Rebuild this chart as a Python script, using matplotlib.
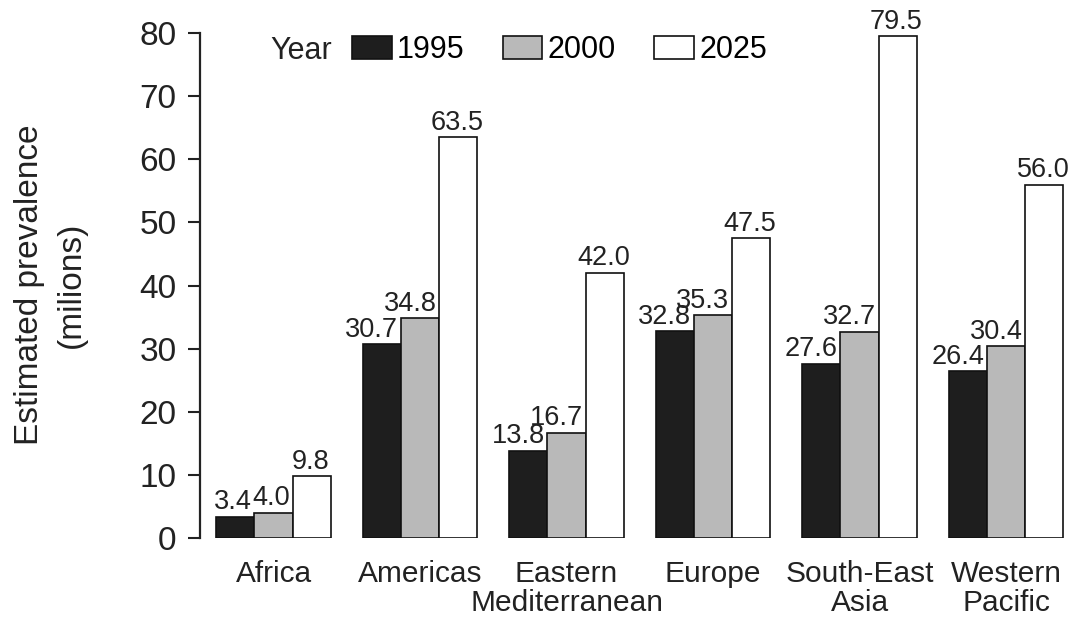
import matplotlib
matplotlib.use("Agg")
import matplotlib.pyplot as plt
from matplotlib.patches import Patch
import numpy as np

plt.rcParams['font.family'] = ['Liberation Sans', 'DejaVu Sans']

regions = ["Africa", "Americas", "Eastern\nMediterranean", "Europe",
           "South-East\nAsia", "Western\nPacific"]
years = ["1995", "2000", "2025"]
prev_1995 = [3.4, 30.7, 13.8, 32.8, 27.6, 26.4]
prev_2000 = [4.0, 34.8, 16.7, 35.3, 32.7, 30.4]
prev_2025 = [9.8, 63.5, 42.0, 47.5, 79.5, 56.0]
y_ticks = [0, 10, 20, 30, 40, 50, 60, 70, 80]

series = [prev_1995, prev_2000, prev_2025]
fills = ["#1e1e1e", "#b9b9b9", "#ffffff"]
ink = "#222222"

W, H = 1073, 619
fig = plt.figure(figsize=(W / 100, H / 100), dpi=100)
ax = fig.add_axes([200 / W, 1 - 538 / H, (1068 - 200) / W, (538 - 33) / H])

x = np.arange(len(regions))
bw = 0.2615
for k, (vals, col) in enumerate(zip(series, fills)):
    pos = x + (k - 1) * bw
    bars = ax.bar(pos, vals, width=bw, color=col, edgecolor="#111111",
                  linewidth=1.2, zorder=2)
    for b, v in zip(bars, vals):
        if k < 2:
            ax.annotate(f"{v:.1f}", (b.get_x() + b.get_width(), v),
                        xytext=(-2, 1), textcoords="offset points",
                        ha="right", va="bottom", fontsize=19.5, color=ink)
        else:
            ax.annotate(f"{v:.1f}", (b.get_x() + b.get_width() / 2, v),
                        xytext=(-1, 1), textcoords="offset points",
                        ha="center", va="bottom", fontsize=19.5, color=ink)

ax.set_xlim(-0.5017, 5.423)
ax.set_ylim(0, 80)
ax.set_yticks(y_ticks)
ax.set_xticks(x)
ax.set_xticklabels(regions, fontsize=21.5, linespacing=1.05, color=ink)
ax.tick_params(axis="x", length=0, pad=16)
ax.tick_params(axis="y", length=9, width=1.5, pad=8, labelsize=24,
               colors=ink, direction="out")

for s in ["top", "right", "bottom"]:
    ax.spines[s].set_visible(False)
ax.spines["left"].set_linewidth(1.6)
ax.spines["left"].set_color(ink)

fig.text(50 / W, 1 - 285 / H, "Estimated prevalence\n(milions)", fontsize=24,
         rotation=90, ha="center", va="center", multialignment="center",
         linespacing=1.45, color=ink)

fig.text(270 / W, 1 - 51 / H, "Year", fontsize=22, ha="left", va="center",
         color=ink)
handles = [Patch(facecolor=c, edgecolor="#111111", linewidth=1.2) for c in fills]
fig.legend(handles, years, loc="center left",
           bbox_to_anchor=(352 / W, 1 - 50 / H), bbox_transform=fig.transFigure,
           ncol=3, frameon=False, fontsize=22, handlelength=1.3,
           handleheight=0.75, handletextpad=0.17, columnspacing=1.25,
           borderpad=0, borderaxespad=0)

fig.savefig("out.png", dpi=100)
